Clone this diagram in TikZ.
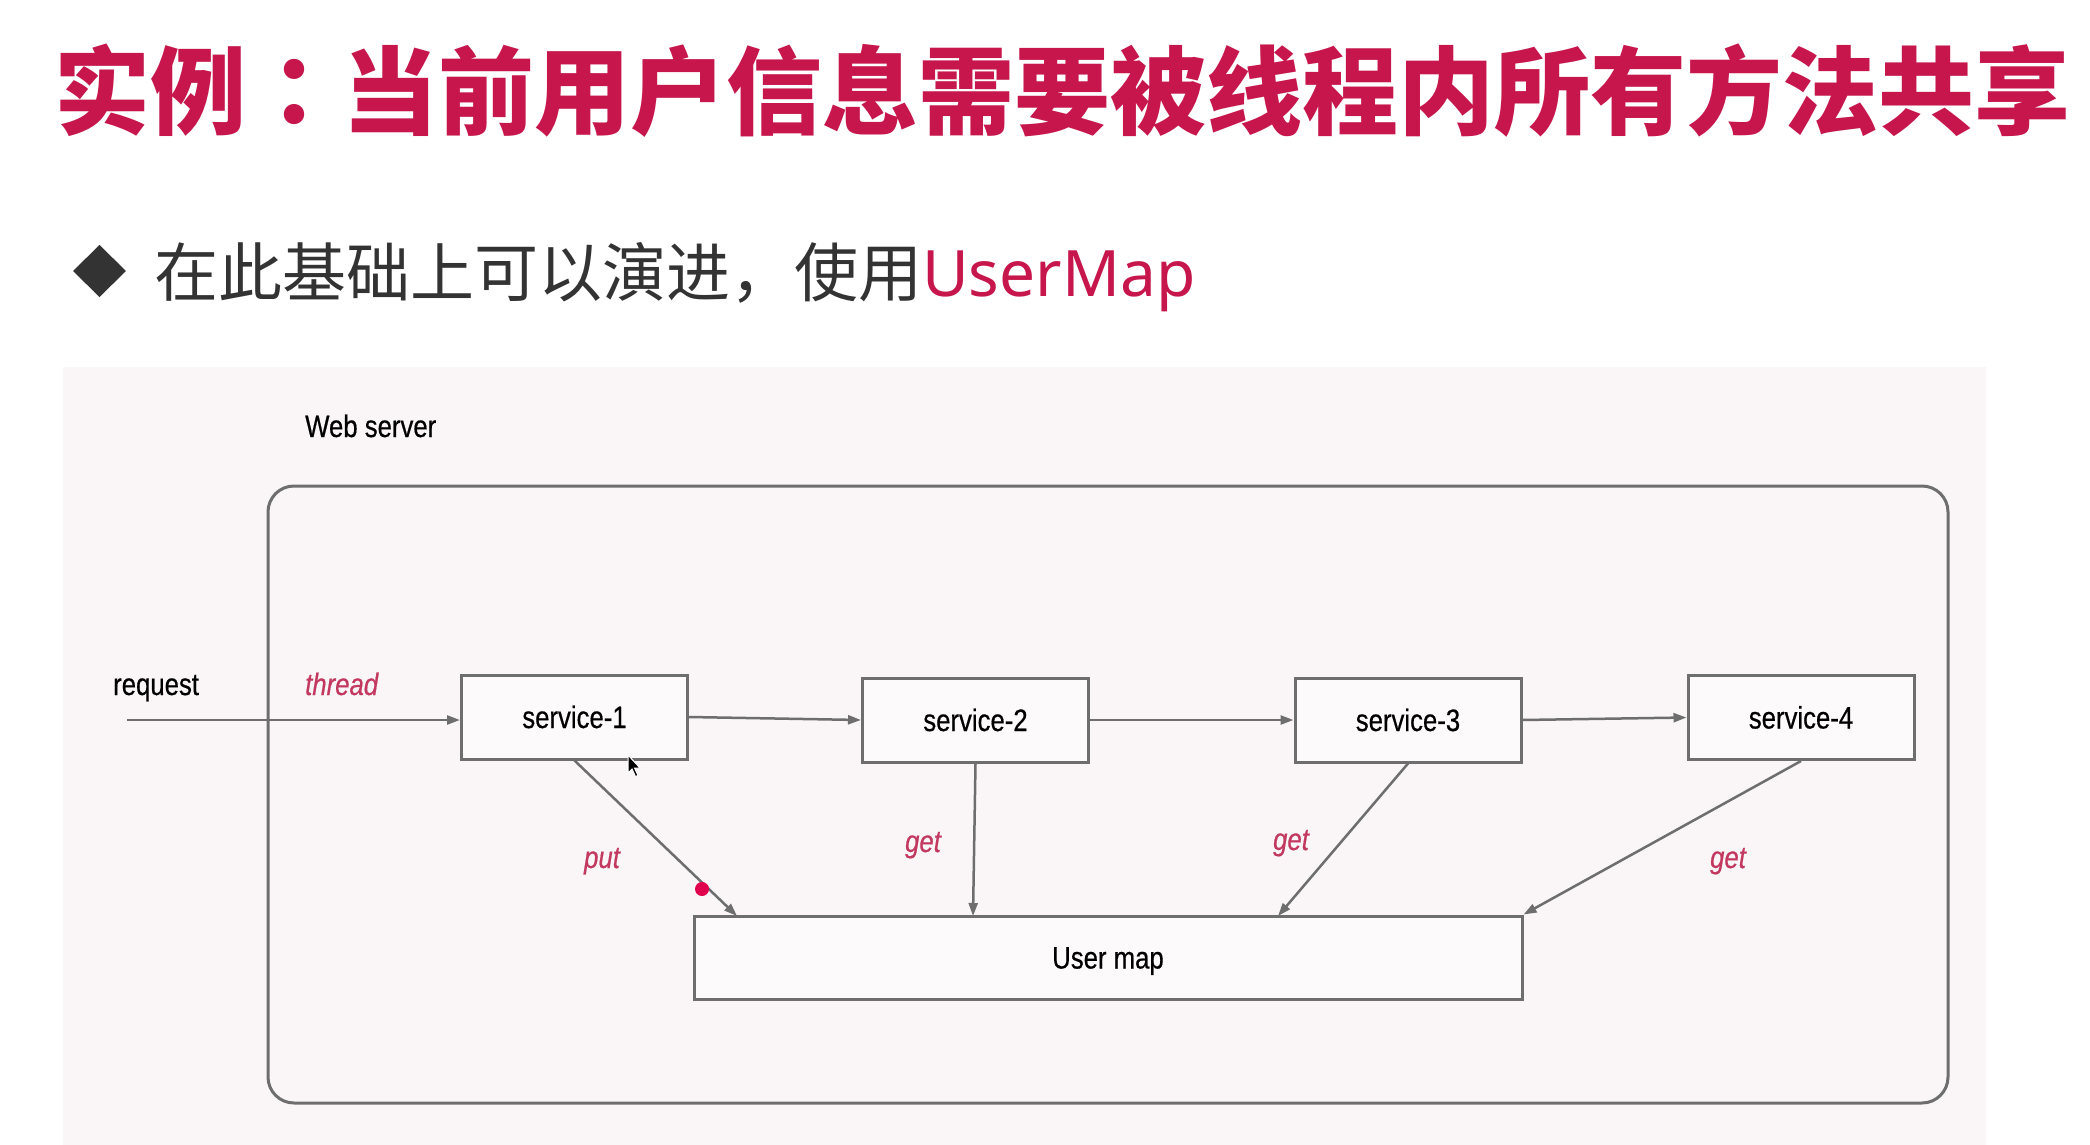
\documentclass[tikz,border=0pt]{standalone}
\usepackage{fontspec}
\usetikzlibrary{arrows.meta}
\newfontfamily\cjk{Noto Sans CJK SC}
\newfontfamily\cjktc{Noto Sans CJK TC}
\newfontfamily\notosans{Noto Sans}
\newfontfamily\diag[FakeStretch=0.83,FakeBold=0.5]{Liberation Sans}
\definecolor{titlered}{HTML}{C6164B}
\definecolor{labelred}{HTML}{C2385F}
\definecolor{darktext}{HTML}{333333}
\definecolor{lgray}{HTML}{6E6E6E}
\definecolor{bgpink}{HTML}{FAF6F8}
\definecolor{boxfill}{HTML}{FCFAFB}
\definecolor{dotred}{HTML}{E0004D}
\tikzset{
  svcbox/.style={draw=lgray, line width=3pt, fill=boxfill, minimum width=226pt, minimum height=84pt, inner sep=0pt, text height=22pt, text depth=0pt, text=black, font=\diag\fontsize{31}{36}\selectfont},
  diagtext/.style={inner sep=0pt, text=black, font=\diag\fontsize{31}{36}\selectfont},
  redlabel/.style={inner sep=0pt, text=labelred, font=\diag\itshape\fontsize{31}{36}\selectfont},
  arr/.style={draw=lgray, line width=2.5pt, -{Triangle[length=13pt,width=9pt]}}
}
\begin{document}
\begin{tikzpicture}[x=1pt,y=-1pt]
\path[use as bounding box, fill=white] (0,0) rectangle (2090,1145);
% diagram background
\fill[bgpink] (63,367) rectangle (1986,1145);
% title
\node[anchor=base west, inner sep=0pt, text=titlered, font=\cjk\bfseries\fontsize{96}{100}\selectfont] (title) at (54,127.5) {实例{\cjktc\bfseries ：}当前用户信息需要被线程内所有方法共享};
% bullet
\fill[darktext] (73,271) -- (99.5,245) -- (126,271) -- (99.5,297) -- cycle;
\node[anchor=base west, inner sep=0pt, text=darktext, font=\cjk\fontsize{64}{70}\selectfont] (bullet) at (154,296) {在此基础上可以演进，使用\textcolor{titlered}{\notosans UserMap}};
% web server box
\draw[lgray, line width=3pt, rounded corners=26pt] (268,486) rectangle (1948,1103);
\node[diagtext, anchor=base west] (web) at (305,437) {Web server};
% services
\node[svcbox] (s1) at (574.5,717) {service-1};
\node[svcbox] (s2) at (975.5,720) {service-2};
\node[svcbox] (s3) at (1408,720) {service-3};
\node[svcbox] (s4) at (1801,717.5) {service-4};
\node[svcbox, minimum width=828pt, minimum height=83pt] (um) at (1108,957.5) {User map};
% request
\node[diagtext, anchor=base west] (req) at (113,695) {request};
\node[redlabel, anchor=base west] (thr) at (305,695) {thread};
\coordinate (rq) at (127,720);
\draw[arr] (rq) -- (rq -| s1.west);
\draw[arr] (s1.east) -- (s2.west);
\draw[arr] (s2.east) -- (s3.west);
\draw[arr] (s3.east) -- (s4.west);
% to user map
\coordinate (t1) at (737,916);
\coordinate (t2) at (973,916);
\coordinate (t3) at (1278,916);
\draw[arr] (s1.south) -- (t1);
\draw[arr] (s2.south) -- (t2);
\draw[arr] (s3.south) -- (t3);
\draw[arr] (s4.south) -- (um.north east);
\node[redlabel, anchor=base] (lput) at (602,868) {put};
\node[redlabel, anchor=base] (lg2) at (923,852) {get};
\node[redlabel, anchor=base] (lg3) at (1291,850) {get};
\node[redlabel, anchor=base] (lg4) at (1728,868) {get};
% red dot and cursor
\fill[dotred] (702,889) circle (7pt);
\filldraw[fill=black, draw=white, line width=1pt] (628,755) -- (628,773) -- (632,769) -- (635.5,776.5) -- (638,775.5) -- (634.5,768) -- (640,768) -- cycle;
\end{tikzpicture}
\end{document}
